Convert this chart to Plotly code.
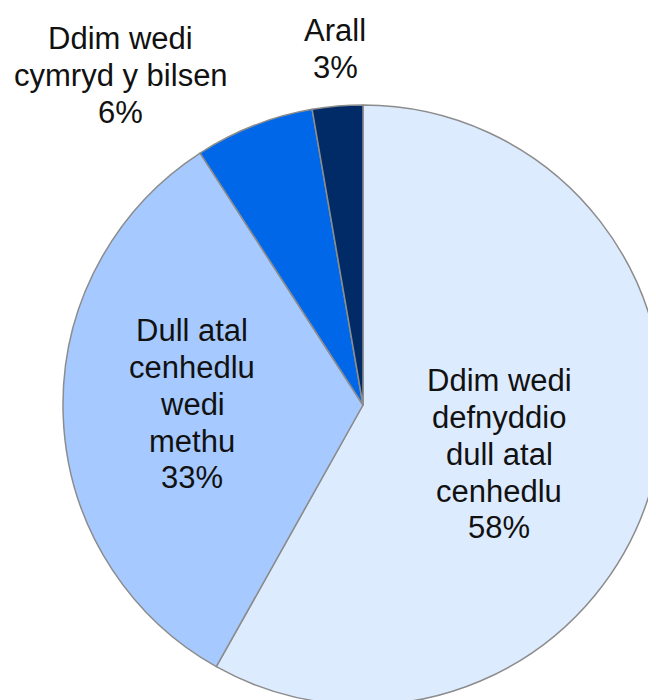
import plotly.graph_objects as go

labels = ["Ddim wedi<br>defnyddio<br>dull atal<br>cenhedlu",
          "Dull atal<br>cenhedlu<br>wedi<br>methu",
          "Ddim wedi<br>cymryd y bilsen",
          "Arall"]
values = [57.9, 32.6, 6.4, 2.7]
colors = ["#DDEBFF", "#A6CAFF", "#0068E8", "#002B66"]

W, H = 656, 700
OFF = 8  # page body margin
cx, cy, r = 363 - OFF, 405 - OFF, 300

total = sum(values)
pcts = [round(v / total * 100) for v in values]

fig = go.Figure(go.Pie(
    labels=labels,
    values=values,
    sort=False,
    direction="clockwise",
    rotation=0,
    textinfo="none",
    hoverinfo="label+percent",
    marker=dict(colors=colors, line=dict(color="#8C8C8C", width=1.5)),
    domain=dict(x=[max(0, (cx - r) / W), min(1, (cx + r) / W)],
                y=[max(0, (H - cy - r) / H), min(1, (H - cy + r) / H)]),
    showlegend=False,
))

# label block: centre x and first baseline y (screen pixels), line step
FS = 31
STEP = 36.8
label_pos = [(499, 391), (192, 341), (121, 49), (335, 41)]
for lab, p, (lx, by) in zip(labels, pcts, label_pos):
    lines = lab.split("<br>") + [f"{p}%"]
    for i, ln in enumerate(lines):
        base = by + i * STEP - OFF
        ymid = base - 0.33 * FS
        fig.add_annotation(
            x=(lx - OFF) / W, y=1 - ymid / H, xref="paper", yref="paper",
            text=ln, showarrow=False,
            xanchor="center", yanchor="middle", align="center",
            font=dict(family="Liberation Sans, Arial, sans-serif", size=FS, color="#111111"),
        )

fig.update_layout(
    width=W, height=H,
    margin=dict(l=0, r=0, t=0, b=0),
    paper_bgcolor="white",
    plot_bgcolor="white",
)

fig.write_html("out.html")
